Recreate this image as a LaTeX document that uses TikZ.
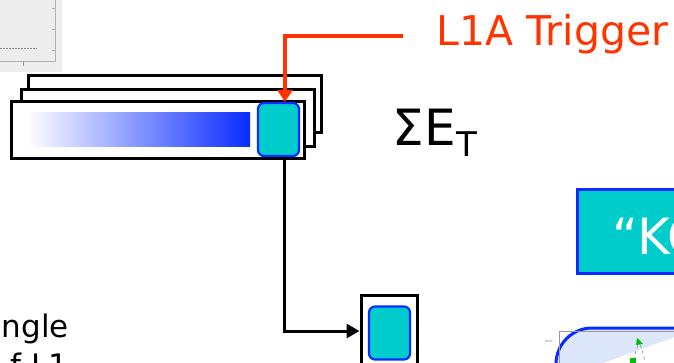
\documentclass[tikz,border=0pt]{standalone}
\usepackage{fontspec}
\setmainfont{DejaVu Sans}
\usetikzlibrary{positioning, arrows.meta}
\usepackage{xcolor}
\definecolor{trigred}{HTML}{FF3300}
\definecolor{cellcyan}{HTML}{00CCCC}
\definecolor{edgeblue}{HTML}{0A2BFF}
\definecolor{paleblue}{HTML}{DDE7FB}

\begin{document}
\begin{tikzpicture}[x=1pt, y=-1pt, >=Triangle, line width=3pt,
    board/.style={draw, fill=white, line width=3pt, minimum width=293pt, minimum height=57pt, inner sep=0pt},
    cell/.style={draw=edgeblue, fill=cellcyan, rounded corners=6pt, line width=2.2pt,
                 minimum width=41pt, minimum height=53pt, inner sep=0pt},
    big/.style={font=\fontsize{41}{45}\selectfont}]

  \useasboundingbox (0,0) rectangle (674,362);
  \clip (0,0) rectangle (674,362);

  % faded plot in the corner
  \fill[black!7] (0,0) rectangle (62,72);
  \draw[black!30, line width=0.8pt] (55,0) -- (55,61) -- (0,61);
  \foreach \ty in {8,29,50} \draw[black!30, line width=0.6pt] (55,\ty) -- (52,\ty);
  \draw[black!40, line width=0.6pt] (23,61) -- (23,66);
  \draw[black!45, line width=0.8pt, dash pattern=on 2pt off 1pt] (0,48) -- (37,48);

  % stack of boards
  \node[board] (b3) at (175,103.5) {};
  \node[board] (b2) at (167.5,118) {};
  \node[board] (b1) at (157.5,129.5) {};
  \node[left color=white, right color=edgeblue, minimum width=223pt,
        minimum height=34pt, inner sep=0pt] (ramp) at (138.5,129) {};
  \node[cell] (sum) at (278.5,129.5) {};

  % trigger line
  \coordinate (trig) at (403,36);
  \draw[trigred, line width=3.5pt, -{Triangle[length=12pt, width=15pt]}]
    (trig) -| ([xshift=6.5pt]sum.north);
  \node[trigred, big, anchor=base west] (l1a) at (432,45) {L1A Trigger};

  \node[font=\fontsize{50}{54}\selectfont, anchor=base west] (et) at (388,145)
    {ΣE\raisebox{-11pt}{\fontsize{34}{36}\selectfont T}};

  % output card
  \node[draw, minimum width=56pt, minimum height=72pt, inner sep=0pt] (card) at (389,331) {};
  \node[cell] (out) at (389.5,333) {};
  \draw[-{Triangle[length=13pt, width=14pt]}] ([xshift=6pt]sum.south) |- (card.west);

  % KO box
  \node[draw=edgeblue, fill=cellcyan, line width=3pt, minimum width=140pt,
        minimum height=84pt, inner sep=0pt] (ko) at (647,231) {};
  \node[white, font=\fontsize{50}{54}\selectfont, anchor=base west] (kotext) at (608,254) {“KO};

  % rounded panel at the bottom
  \filldraw[draw=edgeblue, fill=paleblue, line width=3pt]
    (556,380) -- (556,364) arc[start angle=180, end angle=90, radius=36pt] -- (700,328);
  \draw[black!40, line width=0.6pt] (559,370) -- (559,331) -- (680,331);
  \node[black!50, font=\fontsize{3}{3}\selectfont] (tick) at (549,341) {\#00C};
  \draw[black!45, line width=0.7pt, dashed] (637,340) .. controls (642,348) .. (645,362);
  \draw[black!45, line width=0.7pt, dashed] (640,340) .. controls (636,350) .. (633,362);
  \fill[green!75!black] (637,338) -- (643,344) -- (636,345) -- cycle;
  \fill[green!75!black] (630,358) rectangle (636,363);

  % text cut at the left edge
  \node[font=\fontsize{31}{34}\selectfont, anchor=base west] (single) at (-3,337) {ngle};
  \node[font=\fontsize{31}{34}\selectfont, anchor=base west] (ofl) at (6,376) {f L1};

\end{tikzpicture}
\end{document}
